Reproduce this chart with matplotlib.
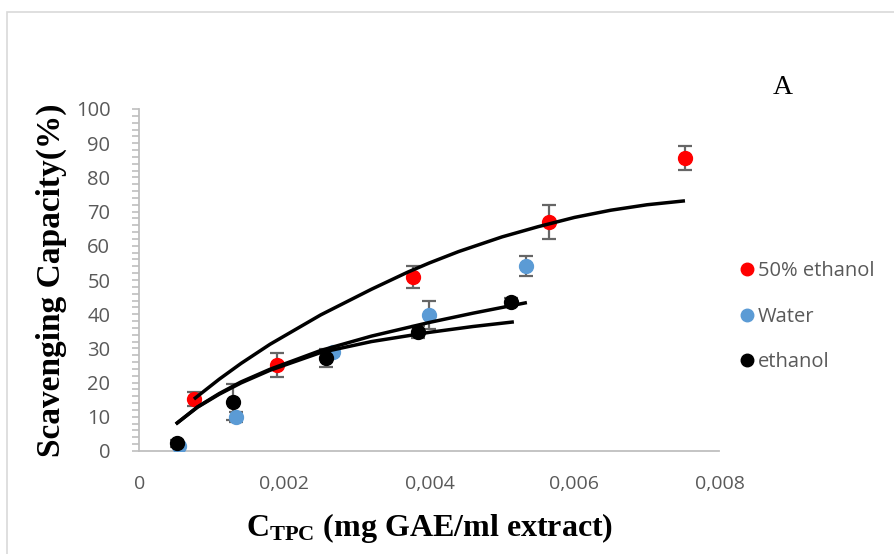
import matplotlib
matplotlib.use("Agg")
import matplotlib.pyplot as plt
from matplotlib.lines import Line2D
from matplotlib.patches import Rectangle
from matplotlib.ticker import MultipleLocator, FuncFormatter

plt.rcParams['mathtext.fontset'] = 'custom'
plt.rcParams['mathtext.rm'] = 'Liberation Serif'
plt.rcParams['mathtext.bf'] = 'Liberation Serif:bold'

# measured points, concentration in mg GAE/ml
x_eth50 = [0.00075, 0.0019, 0.00377, 0.00565, 0.00752]
y_eth50 = [15.2, 25.1, 50.9, 67.0, 85.7]
err_eth50 = [2.0, 3.5, 3.2, 4.9, 3.6]

x_water = [0.00054, 0.00133, 0.00267, 0.00399, 0.00533]
y_water = [1.5, 9.9, 28.9, 39.8, 54.1]
err_water = [0.5, 1.5, 1.0, 4.0, 2.9]

x_eth = [0.00052, 0.00129, 0.00257, 0.00384, 0.00512]
y_eth = [2.3, 14.3, 27.2, 34.8, 43.6]
err_eth = [1.0, 5.3, 2.6, 1.8, 1.2]

# model curves
fit_x_eth50 = [0.00077, 0.0011, 0.0014, 0.0018, 0.0025, 0.0032, 0.0037, 0.004,
               0.0044, 0.005, 0.0055, 0.006, 0.0065, 0.007, 0.0075]
fit_y_eth50 = [15.5, 21.0, 25.6, 31.2, 39.8, 47.3, 52.3, 55.0,
               58.3, 62.6, 65.6, 68.3, 70.4, 72.0, 73.1]
fit_x_water = [0.00052, 0.0008, 0.0011, 0.0014, 0.0018, 0.0025, 0.0032, 0.0040, 0.0046, 0.00532]
fit_y_water = [8.2, 12.9, 16.8, 20.2, 23.9, 29.4, 33.6, 37.6, 40.3, 43.3]
fit_x_eth = [0.00052, 0.0008, 0.0011, 0.0014, 0.0018, 0.0025, 0.0032, 0.0040, 0.0046, 0.00514]
fit_y_eth = [8.2, 12.8, 16.6, 19.9, 23.6, 28.8, 32.0, 34.7, 36.4, 37.7]

series = [
    ('50% ethanol', x_eth50, y_eth50, err_eth50, '#ff0000'),
    ('Water', x_water, y_water, err_water, '#5b9bd5'),
    ('ethanol', x_eth, y_eth, err_eth, '#000000'),
]

W, H = 895, 554
fig = plt.figure(figsize=(W / 100, H / 100), dpi=100)
ax = fig.add_axes([139.5 / W, (H - 451) / H, 580 / W, 342 / H])

# outer chart frame
fig.patches.append(Rectangle((7 / W, -0.05), 1.1, (H - 12) / H + 0.05,
                             transform=fig.transFigure, fill=False,
                             edgecolor='#d9d9d9', linewidth=1.2))

handles = []
for label, xs, ys, errs, color in series:
    ax.errorbar(xs, ys, yerr=errs, fmt='o', color=color, markersize=10,
                ecolor='#666666', elinewidth=1.6, capsize=5, capthick=1.6,
                zorder=3)
    handles.append(Line2D([], [], marker='o', linestyle='none', color=color,
                          markersize=9, label=label))

for fx, fy in [(fit_x_eth50, fit_y_eth50), (fit_x_water, fit_y_water), (fit_x_eth, fit_y_eth)]:
    ax.plot(fx, fy, color='black', linewidth=2.5, zorder=4, solid_joinstyle='round')

ax.set_xlim(0, 0.008)
ax.set_ylim(0, 100)
ax.xaxis.set_major_locator(MultipleLocator(0.002))
ax.yaxis.set_major_locator(MultipleLocator(10))
ax.yaxis.set_minor_locator(MultipleLocator(2))
ax.xaxis.set_major_formatter(FuncFormatter(
    lambda v, p: '0' if v == 0 else f'{v:.3f}'.replace('.', ',')))

for side in ['top', 'right']:
    ax.spines[side].set_visible(False)
for side in ['left', 'bottom']:
    ax.spines[side].set_color('#bfbfbf')
    ax.spines[side].set_linewidth(1.3)

ax.tick_params(axis='x', length=0, pad=17, labelsize=14, labelcolor='#595959')
ax.tick_params(axis='y', which='both', length=5, width=1.2, color='#bfbfbf',
               pad=16, labelsize=14.5, labelcolor='#595959')
for lbl in ax.get_xticklabels() + ax.get_yticklabels():
    lbl.set_fontfamily('Open Sans')

ax.set_xlabel(r'$\mathbf{C_{TPC}}$ (mg GAE/ml extract)', fontfamily='Liberation Serif',
              fontweight='bold', fontsize=23, labelpad=13)
ax.set_ylabel('Scavenging Capacity(%)', fontfamily='Liberation Serif',
              fontweight='bold', fontsize=24, labelpad=6)

fig.text(783 / W, (H - 88) / H, 'A', fontfamily='Liberation Serif', fontsize=20,
         ha='center', va='center')

leg = fig.legend(handles=handles, loc='upper left', bbox_to_anchor=(738 / W, (H - 261) / H),
                 frameon=False, handlelength=0.9, handletextpad=0.1, labelspacing=1.27,
                 borderpad=0, borderaxespad=0,
                 prop={'family': 'Open Sans', 'size': 14.5})
for t in leg.get_texts():
    t.set_color('#595959')

fig.savefig('out.png', dpi=100)
